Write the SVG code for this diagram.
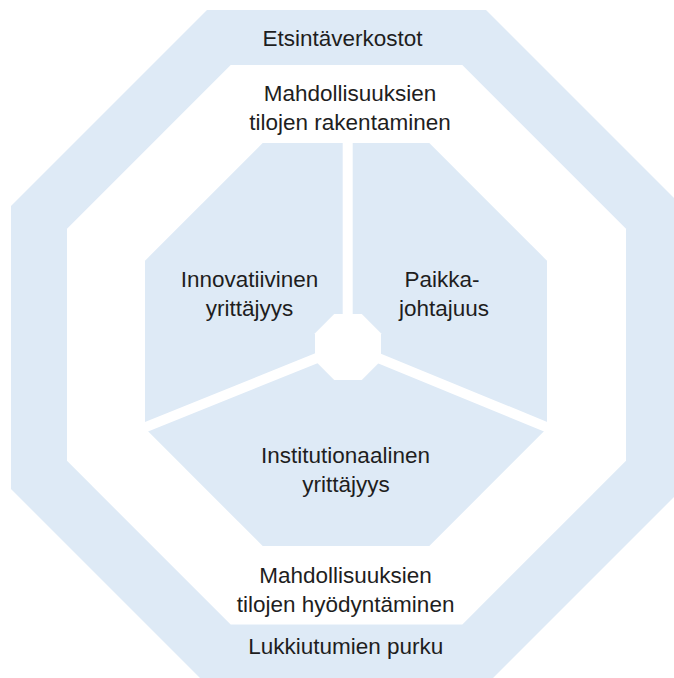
<svg xmlns="http://www.w3.org/2000/svg" width="674" height="678" viewBox="0 0 674 678">
  <style>
    .blue { fill: #DEEAF6; }
    .white { fill: #FFFFFF; }
    .div { stroke: #FFFFFF; stroke-width: 10; fill: none; }
    .lbl { font-family: "Liberation Sans", Arial, sans-serif; font-size: 22.5px; fill: #1E1E1E; text-anchor: middle; }
  </style>
  <rect x="0" y="0" width="674" height="678" fill="#FFFFFF"/>

  <g id="outer-ring">
    <polygon class="blue" points="207,10 486,10 682,206 682,489 486,685 207,685 11,489 11,206"/>
    <text class="lbl" x="342.5" y="46">Etsintäverkostot</text>
    <text class="lbl" x="345.8" y="654">Lukkiutumien purku</text>
  </g>

  <g id="middle-ring">
    <polygon class="white" points="230.7,65 462.3,65 626,228.7 626,460.8 462.3,624.5 230.7,624.5 67,460.8 67,228.7"/>
    <text class="lbl" x="350" y="101">Mahdollisuuksien</text>
    <text class="lbl" x="350" y="130">tilojen rakentaminen</text>
    <text class="lbl" x="345.6" y="583.3">Mahdollisuuksien</text>
    <text class="lbl" x="345.6" y="612.3">tilojen hyödyntäminen</text>
  </g>

  <g id="core">
    <polygon class="blue" points="262.7,143 429.3,143 547,260.7 547,428.3 429.3,546 262.7,546 145,428.3 145,260.7"/>
  </g>

  <g id="dividers">
    <line class="div" x1="347.7" y1="138" x2="347.7" y2="347"/>
    <line class="div" x1="348" y1="345.5" x2="140" y2="429.3"/>
    <line class="div" x1="348" y1="345.5" x2="552" y2="429.3"/>
  </g>

  <g id="sector-innovative">
    <text class="lbl" x="249.5" y="286.7">Innovatiivinen</text>
    <text class="lbl" x="249.5" y="315.7">yrittäjyys</text>
  </g>

  <g id="sector-place">
    <text class="lbl" x="442" y="286.7">Paikka-</text>
    <text class="lbl" x="444" y="315.7">johtajuus</text>
  </g>

  <g id="sector-institutional">
    <text class="lbl" x="345.5" y="463.3">Institutionaalinen</text>
    <text class="lbl" x="346" y="491.7">yrittäjyys</text>
  </g>

  <g id="center">
    <polygon class="white" points="334.2,314 361.8,314 381,333.2 381,360.8 361.8,380 334.2,380 315,360.8 315,333.2"/>
  </g>
</svg>
